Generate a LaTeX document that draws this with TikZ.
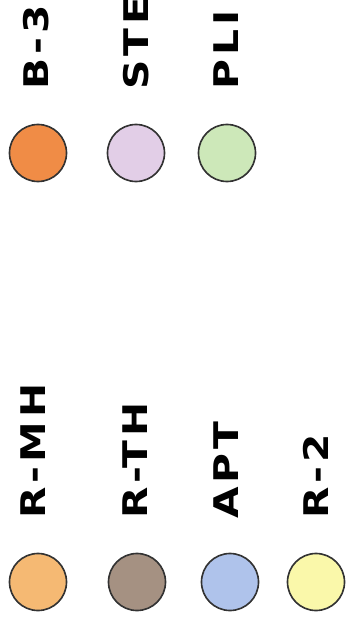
\documentclass[tikz,border=0pt]{standalone}
\usepackage{fontspec}
\newfontfamily\legendfont[LetterSpace=12, FakeStretch=1.2]{DejaVu Sans}
\definecolor{bthree}{RGB}{240,140,70}
\definecolor{stepink}{RGB}{226,206,231}
\definecolor{pligreen}{RGB}{205,232,185}
\definecolor{rmh}{RGB}{245,185,115}
\definecolor{rth}{RGB}{165,145,130}
\definecolor{apt}{RGB}{175,195,235}
\definecolor{rtwo}{RGB}{250,248,170}
\begin{document}
\begin{tikzpicture}[x=0.03cm, y=-0.03cm,
  swatch/.style={circle, draw=black!80, line width=1.4pt, minimum size=1.71cm, inner sep=0pt},
  legtext/.style={font=\legendfont\bfseries\fontsize{29}{31}\selectfont, rotate=90, anchor=base west, inner sep=0pt}]
\useasboundingbox (0,0) rectangle (347,622);
\clip (0,0) rectangle (347,622);
% top row
\node[swatch, fill=bthree] (b3dot) at (38,153) {};
\node[swatch, fill=stepink] (stedot) at (136,153) {};
\node[swatch, fill=pligreen] (plidot) at (227,153) {};
\node[legtext] (b3txt) at (48,90) {B-3};
\node[legtext] (stetxt) at (148,90) {STE};
\node[legtext] (plitxt) at (238,90) {PLI};
% bottom row
\node[swatch, fill=rmh] (rmhdot) at (38,582) {};
\node[swatch, fill=rth] (rthdot) at (137,582) {};
\node[swatch, fill=apt] (aptdot) at (230,582) {};
\node[swatch, fill=rtwo] (r2dot) at (316,582) {};
\node[legtext] (rmhtxt) at (45,519) {R-MH};
\node[legtext] (rthtxt) at (147,519) {R-TH};
\node[legtext] (apttxt) at (238,519) {APT};
\node[legtext] (r2txt) at (328,519) {R-2};
\end{tikzpicture}
\end{document}
